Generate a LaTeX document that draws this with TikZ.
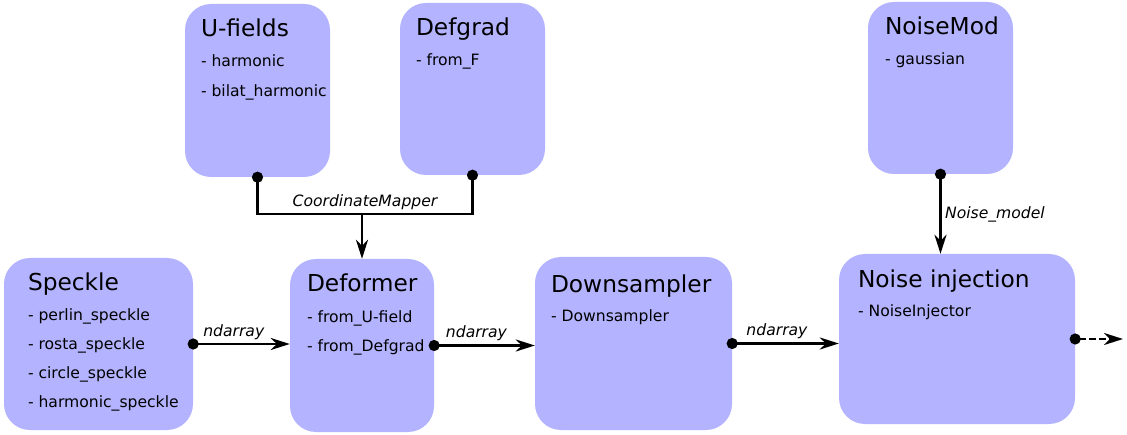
\documentclass[tikz,border=0pt]{standalone}
\usepackage{fontspec}
\setmainfont{DejaVu Sans}
\usepackage{xcolor}
\usetikzlibrary{arrows.meta, calc, positioning}
\definecolor{lavender}{HTML}{B3B3FF}
\definecolor{black}{HTML}{000000}

\begin{document}
\begin{tikzpicture}[x=1pt, y=-1pt,
    block/.style={fill=lavender, rounded corners=26pt, inner sep=0pt},
    title/.style={anchor=base west, inner sep=0pt, font=\fontsize{23.3}{27}\selectfont},
    item/.style={anchor=base west, inner sep=0pt, font=\fontsize{15.6}{19}\selectfont},
    tag/.style={font=\fontsize{15.6}{19}\selectfont\itshape},
    link/.style={black, line width=2.6pt, {Circle[length=11pt]}-{Stealth[length=19pt, width=12pt, inset=6pt]}, shorten <=-5.5pt},
    dots/.style={black, line width=2.6pt, {Circle[length=11pt]}-{Circle[length=11pt]}, shorten <=-5.5pt, shorten >=-5.5pt},
    feed/.style={black, line width=2.6pt, -{Stealth[length=19pt, width=12pt, inset=6pt]}}]
    \useasboundingbox (0,0) rectangle (1127,435);
    %
    \node[block, minimum width=145pt, minimum height=173pt] (ufields) at (257.5,90.5) {};
    \node[title] at ([shift={(16,33)}]ufields.north west) {U-fields};
    \foreach \s [count=\i] in {harmonic, bilat\_harmonic}
        \node[item] at ([shift={(16,33+30*\i)}]ufields.north west) {- \s};
    %
    \node[block, minimum width=145pt, minimum height=172pt] (defgrad) at (472.5,89) {};
    \node[title] at ([shift={(16,33)}]defgrad.north west) {Defgrad};
    \node[item] at ([shift={(16,63)}]defgrad.north west) {- from\_F};
    %
    \node[block, minimum width=145pt, minimum height=172pt] (noisemod) at (940.5,88) {};
    \node[title] at ([shift={(17,33)}]noisemod.north west) {NoiseMod};
    \node[item] at ([shift={(17,63)}]noisemod.north west) {- gaussian};
    %
    \node[block, minimum width=189pt, minimum height=172pt] (speckle) at (98.5,344) {};
    \node[title] at ([shift={(24,33)}]speckle.north west) {Speckle};
    \foreach \s [count=\i] in {perlin\_speckle, rosta\_speckle, circle\_speckle, harmonic\_speckle}
        \node[item] at ([shift={(24,34+29*\i)}]speckle.north west) {- \s};
    %
    \node[block, minimum width=144pt, minimum height=173pt] (deformer) at (362,345.5) {};
    \node[title] at ([shift={(17,33)}]deformer.north west) {Deformer};
    \foreach \s [count=\i] in {from\_U-field, from\_Defgrad}
        \node[item] at ([shift={(17,35+29*\i)}]deformer.north west) {- \s};
    %
    \node[block, minimum width=197pt, minimum height=173pt] (downsampler) at (633.5,343.5) {};
    \node[title] at ([shift={(16,36)}]downsampler.north west) {Downsampler};
    \node[item] at ([shift={(16,65)}]downsampler.north west) {- Downsampler};
    %
    \node[block, minimum width=236pt, minimum height=170pt] (noise) at (957,339) {};
    \node[title] at ([shift={(19,34)}]noise.north west) {Noise injection};
    \node[item] at ([shift={(19,63)}]noise.north west) {- NoiseInjector};
    %
    \coordinate (bend) at ($(ufields.south)+(0,37)$);
    \coordinate (exit) at (1123,339);
    %
    \draw[dots] (ufields.south) -- (bend) -| (defgrad.south) node[pos=0.25, above, tag] {CoordinateMapper};
    \draw[feed] (bend -| deformer.north) -- (deformer.north);
    \draw[link] (noisemod.south) -- (noisemod.south |- noise.north) node[midway, right, tag] {Noise\_model};
    %
    \draw[link] (speckle.east) -- (speckle.east -| deformer.west) node[pos=0.42, above, tag] {ndarray};
    \draw[link] (deformer.east) -- (deformer.east -| downsampler.west) node[pos=0.42, above, tag] {ndarray};
    \draw[link] (downsampler.east) -- (downsampler.east -| noise.west) node[pos=0.42, above, tag] {ndarray};
    \draw[link, dash pattern=on 7pt off 3pt] (noise.east) -- (exit);
\end{tikzpicture}
\end{document}
